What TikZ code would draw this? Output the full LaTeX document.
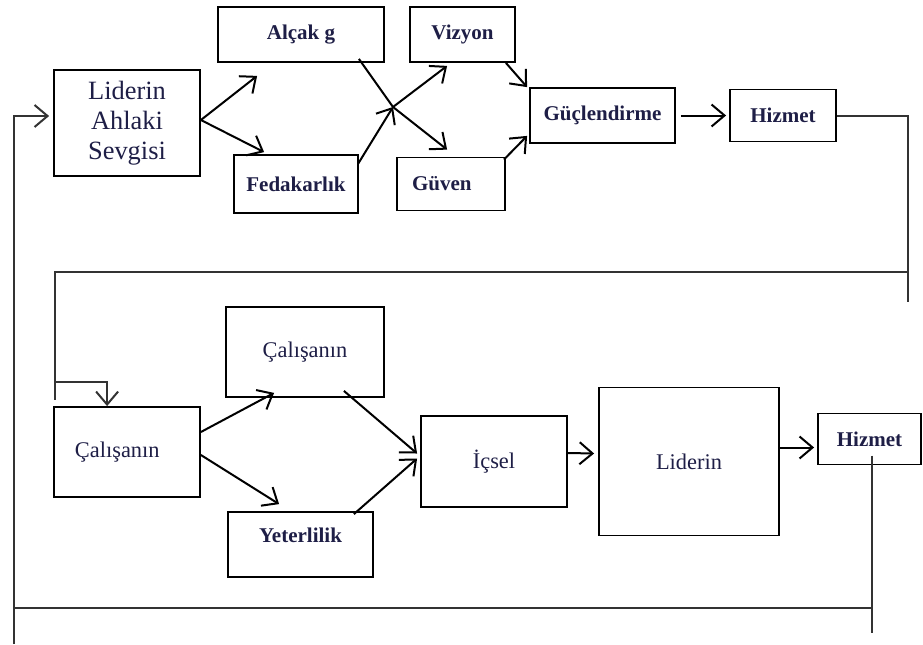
\documentclass[tikz,border=0pt]{standalone}
\usepackage{fontspec}
\setmainfont{Liberation Serif}
\usetikzlibrary{positioning,calc,arrows.meta}
\definecolor{yazi}{RGB}{30,30,70}
\tikzset{
  kutu/.style={draw, rectangle, line width=0.9pt, inner sep=2pt, text=yazi,
    font=\bfseries\fontsize{10.5}{12}\selectfont},
  ince/.style={font=\fontsize{11.2}{13}\selectfont},
  ok/.style={line width=1pt},
  hat/.style={line width=1pt, black!80},
}

\begin{document}
\begin{tikzpicture}[x=0.5pt,y=-0.5pt,on grid,>={Straight Barb[length=6.5pt,width=11pt]}]
  \useasboundingbox (0,0) rectangle (923,644);
  % ust sira
  \node[kutu,minimum width=73pt,minimum height=53pt,align=center,font=\fontsize{13.2}{15}\selectfont] (lider) at (127,123) {Liderin\\Ahlaki\\Sevgisi};
  \node[kutu,minimum width=83pt,minimum height=27.5pt] (alcak) [above right=44.25pt and 87pt of lider] {Alçak g};
  \node[kutu,minimum width=62pt,minimum height=29pt] (feda) [below right=30.5pt and 84.5pt of lider] {Fedakarlık};
  \node[kutu,minimum width=52.5pt,minimum height=27.5pt] (vizyon) [right=80.75pt of alcak] {Vizyon};
  \node[kutu,minimum width=54pt,minimum height=26.5pt,text width=39pt,align=left] (guven) [right=77.5pt of feda] {Güven};
  \node[kutu,minimum width=72.5pt,minimum height=27.5pt] (guc) [below right=40.5pt and 70pt of vizyon] {Güçlendirme};
  \node[kutu,minimum width=53pt,minimum height=26pt] (hizmet) [right=90.25pt of guc] {Hizmet};
  % alt sira
  \node[kutu,ince,minimum width=73pt,minimum height=45pt,text width=52pt,align=left] (calisan) [below=164.5pt of lider] {Çalışanın};
  \node[kutu,ince,minimum width=79pt,minimum height=45pt] (calisanB) [above right=50pt and 89pt of calisan] {Çalışanın};
  \node[kutu,minimum width=72.5pt,minimum height=32.5pt,text depth=9.5pt] (yeter) [below right=46.25pt and 86.75pt of calisan] {Yeterlilik};
  \node[kutu,ince,minimum width=73pt,minimum height=45.5pt] (icsel) [below right=4.75pt and 183.5pt of calisan] {İçsel};
  \node[kutu,ince,minimum width=90pt,minimum height=74pt] (liderB) [right=97.5pt of icsel] {Liderin};
  \node[kutu,minimum width=51.5pt,minimum height=25.5pt] (hizmetB) [above right=11.25pt and 90.25pt of liderB] {Hizmet};

  \coordinate (kesisim) at (393,107);
  \coordinate (donusSol) at (14,644);
  \coordinate (ustSag) at (908,302);
  \coordinate (ortaSag) at (908,272);
  \coordinate (ortaSol) at (55,272);
  \coordinate (ortaSolAlt) at (55,400);
  \coordinate (kanca) at (55,382);
  \coordinate (altSag) at (872,633);
  \coordinate (altCizgiSag) at (872,608);
  \coordinate (altCizgiSol) at (14,608);

  \path[->,ok]
  ($(lider.east)+(0,-3)$)
  edge ($(alcak.south west)+(40,13)$)
  edge ($(feda.north west)+(31,-2)$)
  ($(feda.north east)+(-1,10)$) edge (kesisim)
  (kesisim)
  edge ($(vizyon.south west)+(38,3)$)
  edge ($(guven.north west)+(51,-7)$)
  ($(vizyon.south east)+(-10,0)$) edge ($(guc.north west)+(-2,0)$)
  ($(guven.north east)+(-2,3)$) edge ($(guc.south west)+(-2,-8)$)
  ($(guc.east)+(5,0)$) edge ($(hizmet.west)+(-3,0)$)
  ($(calisan.east)+(0,-20)$) edge ($(calisanB.south west)+(49,-5)$)
  ($(calisan.east)+(0,3)$) edge ($(yeter.north west)+(52,-7)$)
  ($(calisanB.south east)+(-41,-7)$) edge ($(icsel.west)+(-3,-8)$)
  ($(yeter.north east)+(-20,3)$) edge ($(icsel.west)+(-3,-3)$)
  ($(icsel.east)+(0,-8.5)$) edge ($(liderB.west)+(-4,-8)$)
  ($(liderB.east)+(0,-14)$) edge ($(hizmetB.west)+(-3,8.5)$)
  ;
  \draw[ok] ($(alcak.south east)+(-26,-4)$) -- (kesisim);

  % geri donus hatlari
  \draw[hat] (hizmet.east) -- (ortaSag |- hizmet.east) -- (ustSag);
  \draw[hat] (ortaSag) -- (ortaSol) -- (ortaSolAlt);
  \draw[hat,->] (kanca) -| ($(calisan.north west)+(54,0)$);
  \draw[hat] ($(hizmetB.center)+(2.5,16.5)$) -- (altSag);
  \draw[hat] (altCizgiSag) -- (altCizgiSol);
  \draw[hat,->] (donusSol) |- ($(lider.west)+(-4,-7)$);
\end{tikzpicture}
\end{document}
